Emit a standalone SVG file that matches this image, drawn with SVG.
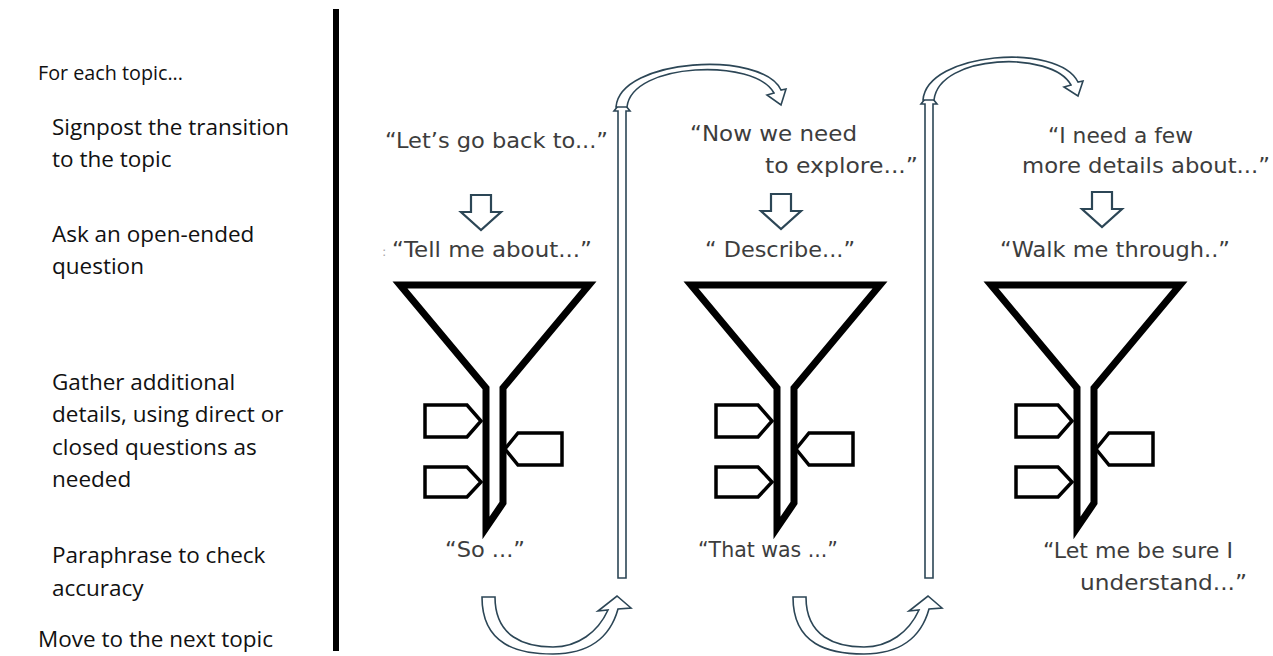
<svg xmlns="http://www.w3.org/2000/svg" width="1273" height="656" viewBox="0 0 1273 656">
<style>
.lbl{font-family:"Open Sans","Liberation Sans",sans-serif;font-size:22.5px;fill:#111}
.q{font-family:"DejaVu Sans","Liberation Sans",sans-serif;font-size:21px;fill:#3d3d3d}
.fun{fill:#fff;stroke:#000;stroke-width:7;stroke-linejoin:miter;stroke-miterlimit:10}
.tab{fill:#fff;stroke:#000;stroke-width:3.5;stroke-linejoin:miter}
.arr{fill:#fff;stroke:#2c4656;stroke-width:1.6;stroke-linejoin:miter}
.darr{fill:#fff;stroke:#2c4656;stroke-width:2.2;stroke-linejoin:miter}
</style>
<defs>
<g id="funnelShape">
<path class="fun" d="M400,285 L589,285 L503,388 L503,503 L486,528 L486,388 Z"/>
<path class="tab" d="M425,405 L467,405 L481,421 L467,437 L425,437 Z"/>
<path class="tab" d="M425,467 L467,467 L481,482 L467,497 L425,497 Z"/>
<path class="tab" d="M562,433 L518,433 L505,449 L518,465 L562,465 Z"/>
</g>
<polygon id="downArrow" class="darr" points="471,195 491,195 491,212 501,212 481,230 461,212 471,212"/>
<path id="uArrow" class="arr" d="M482,597 L495,597 C495,637 525,647 553,647 C578,647 598,632 608,610 L598,611 L617,596 L631,608 L618,609 C610,638 588,654 553,654 C518,654 482,645 482,597 Z"/>
</defs>
<rect width="1273" height="656" fill="#fff"/>
<g id="labels">
<text class="lbl" x="38" y="80" style="font-size:20.5px" textLength="145" lengthAdjust="spacingAndGlyphs">For each topic...</text>
<text class="lbl" x="52" y="135">Signpost the transition</text>
<text class="lbl" x="52" y="167">to the topic</text>
<text class="lbl" x="52" y="242">Ask an open-ended</text>
<text class="lbl" x="52" y="274">question</text>
<text class="lbl" x="52" y="390">Gather additional</text>
<text class="lbl" x="52" y="422">details, using direct or</text>
<text class="lbl" x="52" y="455">closed questions as</text>
<text class="lbl" x="52" y="487">needed</text>
<text class="lbl" x="52" y="563">Paraphrase to check</text>
<text class="lbl" x="52" y="596">accuracy</text>
<text class="lbl" x="38" y="647">Move to the next topic</text>
</g>
<g id="divider">
<rect x="333" y="9" width="6" height="642" fill="#000"/>
</g>
<g id="funnel1">
<text class="q" x="385" y="148" textLength="223" lengthAdjust="spacingAndGlyphs">“Let’s go back to...”</text>
<use href="#downArrow"/>
<text x="382" y="256" font-family="DejaVu Sans, sans-serif" font-size="13" fill="#aaa">:</text>
<text class="q" x="392" y="257" textLength="200" lengthAdjust="spacingAndGlyphs">“Tell me about...”</text>
<use href="#funnelShape"/>
<text class="q" x="445" y="557" textLength="80" lengthAdjust="spacingAndGlyphs">“So ...”</text>
</g>
<g id="funnel2">
<text class="q" x="690" y="141" textLength="167" lengthAdjust="spacingAndGlyphs">“Now we need</text>
<text class="q" x="765" y="173" textLength="153" lengthAdjust="spacingAndGlyphs">to explore...”</text>
<use href="#downArrow" transform="translate(300,-1)"/>
<text class="q" x="705" y="257" textLength="150" lengthAdjust="spacingAndGlyphs">“ Describe...”</text>
<use href="#funnelShape" transform="translate(291,0)"/>
<text class="q" x="698" y="557" textLength="140" lengthAdjust="spacingAndGlyphs">“That was ...”</text>
</g>
<g id="funnel3">
<text class="q" x="1048" y="143" textLength="145" lengthAdjust="spacingAndGlyphs">“I need a few</text>
<text class="q" x="1022" y="173" textLength="248" lengthAdjust="spacingAndGlyphs">more details about...”</text>
<use href="#downArrow" transform="translate(621,-3)"/>
<text class="q" x="1000" y="257" textLength="230" lengthAdjust="spacingAndGlyphs">“Walk me through..”</text>
<use href="#funnelShape" transform="translate(591,0)"/>
<text class="q" x="1043" y="558" textLength="190" lengthAdjust="spacingAndGlyphs">“Let me be sure I</text>
<text class="q" x="1080" y="590" textLength="167" lengthAdjust="spacingAndGlyphs">understand...”</text>
</g>
<g id="connectors">
<polygon class="arr" points="618,578 626,578 626,111 630,111 622,101 614,111 618,111"/>
<path class="arr" d="M616,107 C620,58 762,50 781,90 L786,89 L781,105 L767,95 L774,93 C755,58 632,62 627,107 Z"/>
<polygon class="arr" points="925,578 933,578 933,104 937,104 929,94 921,104 925,104"/>
<path class="arr" d="M923,100 C927,52 1058,42 1078,82 L1083,81 L1078,96 L1064,87 L1071,85 C1052,50 939,54 934,100 Z"/>
<use href="#uArrow"/>
<use href="#uArrow" transform="translate(311,0)"/>
</g>
</svg>
